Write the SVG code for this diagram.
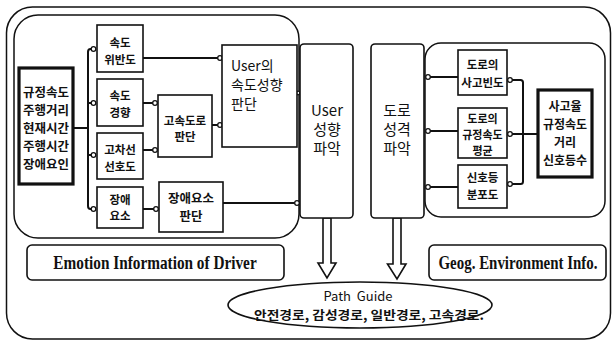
<svg xmlns="http://www.w3.org/2000/svg" width="613" height="345" viewBox="0 0 613 345">
<style>
.ln{fill:none;stroke:#111;stroke-width:1.5}
.bx{fill:#fff;stroke:#111;stroke-width:1.6}
.tb{fill:#fff;stroke:#111;stroke-width:3.2}
.cn{fill:none;stroke:#111;stroke-width:2}
.dot{fill:#fff;stroke:#111;stroke-width:1.3}
.k{font-family:"Noto Sans CJK KR","Noto Sans",sans-serif;font-weight:700;fill:#111;text-anchor:middle}
.r{font-family:"Noto Sans CJK KR","Liberation Sans",sans-serif;fill:#111}
.s{font-family:"Liberation Serif",serif;font-weight:700;fill:#111;text-anchor:middle}
</style>
<rect width="613" height="345" fill="#fff"/>
<g id="frame">
<rect x="6.5" y="7" width="604" height="332" rx="26" class="ln" stroke-width="2"/>
<rect x="14" y="15" width="285" height="223" rx="24" class="ln" stroke-width="1.8"/>
<rect x="425" y="43" width="180" height="174" rx="16" class="ln" stroke-width="1.8"/>
</g>
<g id="connectors">
<path class="cn" d="M73,128 H88"/>
<path class="cn" d="M92,49 H90.5 Q88,49 88,52 V206 Q88,209 90.5,209 H92"/>
<path class="cn" d="M88,103 H92 M88,155 H92"/>
<path class="cn" d="M143,58 H219 M143,103 H154 M143,150 H154 M212,125 H219 M297,93 H300 M143,209 H155 M223,203 H296"/>
<path class="cn" d="M538,134 H523 M511,80 H520.5 Q523,80 523,82.5 V181.5 Q523,184 520.5,184 H511 M523,134 H511"/>
<path class="cn" d="M458,77 H430 M458,131 H430 M458,187 H430"/>
<g class="dot">
<circle cx="93.5" cy="49" r="2.3"/><circle cx="93.5" cy="103" r="2.3"/><circle cx="93.5" cy="155" r="2.3"/><circle cx="93.5" cy="209" r="2.3"/>
<circle cx="220" cy="58" r="2.3"/><circle cx="155" cy="103" r="2.3"/><circle cx="155" cy="150" r="2.3"/><circle cx="220" cy="125" r="2.3"/>
<circle cx="156" cy="209" r="2.3"/><circle cx="297" cy="203" r="2.3"/><circle cx="298" cy="93" r="1.8"/>
<circle cx="510" cy="80" r="2.3"/><circle cx="510" cy="134" r="2.3"/><circle cx="510" cy="184" r="2.3"/>
<circle cx="428" cy="77" r="2.3"/><circle cx="428" cy="131" r="2.3"/><circle cx="428" cy="187" r="2.3"/>
</g>
<path class="bx" d="M323,218 V263 H318 L327,278 L336,263 H331 V218 Z"/>
<path class="bx" d="M393,218 V264 H387.5 L397,279 L406,264 H401 V218 Z"/>
</g>
<g id="n-input"><rect x="19" y="68" width="54" height="116" class="tb"/>
<text class="k" font-size="12.5"><tspan x="46" y="97">규정속도</tspan><tspan x="46" y="115">주행거리</tspan><tspan x="46" y="133">현재시간</tspan><tspan x="46" y="151">주행시간</tspan><tspan x="46" y="169">장애요인</tspan></text></g>
<g id="n-violation"><rect x="97" y="25" width="46" height="47" class="bx"/>
<text class="k" font-size="11.5"><tspan x="120" y="47">속도</tspan><tspan x="120" y="64">위반도</tspan></text></g>
<g id="n-trend"><rect x="97" y="79" width="46" height="47" class="bx"/>
<text class="k" font-size="11.5"><tspan x="120" y="100">속도</tspan><tspan x="120" y="117">경향</tspan></text></g>
<g id="n-lane"><rect x="97" y="133" width="46" height="46" class="bx"/>
<text class="k" font-size="11.5"><tspan x="120" y="154">고차선</tspan><tspan x="120" y="171">선호도</tspan></text></g>
<g id="n-obstacle"><rect x="97" y="187" width="46" height="41" class="bx"/>
<text class="k" font-size="11.5"><tspan x="120" y="204">장애</tspan><tspan x="120" y="220">요소</tspan></text></g>
<g id="n-highway"><rect x="158" y="95" width="54" height="62" class="bx"/>
<text class="k" font-size="11.5"><tspan x="185" y="125">고속도로</tspan><tspan x="185" y="141">판단</tspan></text></g>
<g id="n-obsjudge"><rect x="159" y="182" width="64" height="50" class="bx"/>
<text class="k" font-size="12.5"><tspan x="191" y="203">장애요소</tspan><tspan x="191" y="221">판단</tspan></text></g>
<g id="n-userspeed"><rect x="222" y="45" width="75" height="102" class="bx" stroke-width="1.2"/>
<text class="r" font-size="14"><tspan x="231" y="71">User의</tspan><tspan x="231" y="90">속도성향</tspan><tspan x="231" y="109">판단</tspan></text></g>
<g id="n-user"><rect x="300" y="44" width="53" height="174" rx="4" class="bx"/>
<text class="r" font-size="15" text-anchor="middle"><tspan x="327" y="116">User</tspan><tspan x="327" y="135">성향</tspan><tspan x="327" y="154">파악</tspan></text></g>
<g id="n-road"><rect x="371" y="44" width="53" height="174" rx="4" class="bx"/>
<text class="r" font-size="15" text-anchor="middle"><tspan x="397" y="116">도로</tspan><tspan x="397" y="135">성격</tspan><tspan x="397" y="154">파악</tspan></text></g>
<g id="n-accfreq"><rect x="458" y="50" width="49" height="45" class="bx"/>
<text class="k" font-size="11.5"><tspan x="482.5" y="69">도로의</tspan><tspan x="482.5" y="87">사고빈도</tspan></text></g>
<g id="n-limitavg"><rect x="458" y="108" width="49" height="50" class="bx"/>
<text class="k" font-size="11"><tspan x="482.5" y="123">도로의</tspan><tspan x="482.5" y="139">규정속도</tspan><tspan x="482.5" y="155">평균</tspan></text></g>
<g id="n-signal"><rect x="458" y="165" width="49" height="43" class="bx"/>
<text class="k" font-size="11.5"><tspan x="482.5" y="182">신호등</tspan><tspan x="482.5" y="199">분포도</tspan></text></g>
<g id="n-roadinput"><rect x="538" y="90" width="54" height="87" class="tb"/>
<text class="k" font-size="12"><tspan x="565" y="111">사고율</tspan><tspan x="565" y="129">규정속도</tspan><tspan x="565" y="147">거리</tspan><tspan x="565" y="165">신호등수</tspan></text></g>
<g id="n-emotion"><rect x="27" y="245" width="257" height="35" rx="5" class="bx"/>
<text class="s" transform="translate(155,269) scale(0.85,1)" font-size="18">Emotion Information of Driver</text></g>
<g id="n-geog"><rect x="429" y="245" width="177" height="35" rx="5" class="bx"/>
<text class="s" transform="translate(518,269) scale(0.83,1)" font-size="18">Geog. Environment Info.</text></g>
<g id="n-path"><ellipse cx="360" cy="305" rx="132" ry="23" class="bx"/>
<text class="r" font-size="13" text-anchor="middle" x="358" y="301" xml:space="preserve">Path  Guide</text>
<text class="r" font-size="12.5" x="254" y="320" font-weight="700" textLength="230" lengthAdjust="spacingAndGlyphs">안전경로, 감성경로, 일반경로, 고속경로.</text></g>
</svg>
